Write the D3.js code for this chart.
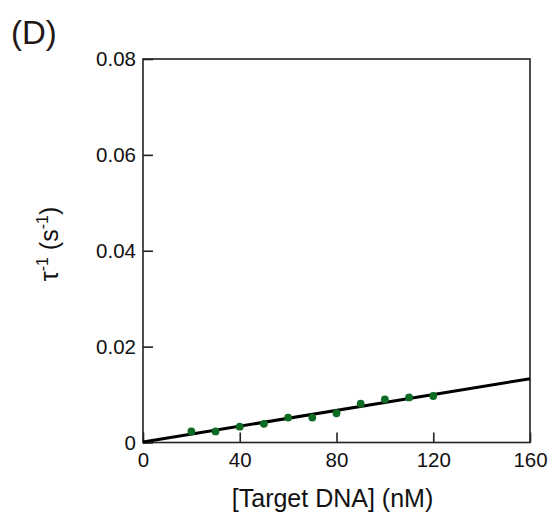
<!DOCTYPE html>
<html lang="en">
<head>
<meta charset="UTF-8">
<title>Relaxation rate vs target DNA</title>
<script src="https://d3js.org/d3.v7.min.js"></script>
<style>
  body { margin: 0; background: #fff; font-family: "Liberation Sans", Arial, sans-serif; }
  svg { display: block; }
</style>
</head>
<body>
<svg id="chart"></svg>
<script>
const width = 553, height = 522;

// data
const concentrations = [20, 30, 40, 50, 60, 70, 80, 90, 100, 110, 120];
const rates = [0.0023, 0.0023, 0.0033, 0.0039, 0.0052, 0.0052, 0.0061, 0.0081, 0.0090, 0.0094, 0.0097];
const fitX = [0, 160];
const fitY = [0.0001, 0.0133];
const xTicks = [0, 40, 80, 120, 160];
const yTicks = [0, 0.02, 0.04, 0.06, 0.08];

const margin = { top: 59, right: 23, bottom: 80, left: 143 };
const svg = d3.select("#chart").attr("width", width).attr("height", height);

const x = d3.scaleLinear().domain([0, 160]).range([margin.left, width - margin.right]);
const y = d3.scaleLinear().domain([0, 0.08]).range([height - margin.bottom + 0.5, margin.top]);

const fontSize = 20.5;
const font = "Liberation Sans, Arial, sans-serif";

// frame
svg.append("rect")
  .attr("x", x(0)).attr("y", y(0.08))
  .attr("width", x(160) - x(0)).attr("height", y(0) - y(0.08))
  .attr("fill", "none").attr("stroke", "#222").attr("stroke-width", 1.6);

// x axis (ticks inward)
const xAxis = svg.append("g")
  .attr("transform", `translate(0,${y(0)})`)
  .call(d3.axisBottom(x).tickValues(xTicks).tickFormat(d3.format("d")).tickSizeInner(-10).tickSizeOuter(0).tickPadding(10));
xAxis.select(".domain").remove();
xAxis.selectAll("line").attr("stroke", "#222").attr("stroke-width", 1.6);
xAxis.selectAll("text").attr("font-size", fontSize).attr("font-family", font).attr("fill", "#111");

// y axis (ticks inward)
const yAxis = svg.append("g")
  .attr("transform", `translate(${x(0)},0)`)
  .call(d3.axisLeft(y).tickValues(yTicks).tickFormat(d => d === 0 ? "0" : d3.format(".2f")(d)).tickSizeInner(-10).tickSizeOuter(0).tickPadding(7));
yAxis.select(".domain").remove();
yAxis.selectAll("line").attr("stroke", "#222").attr("stroke-width", 1.6);
yAxis.selectAll("text").attr("font-size", fontSize).attr("font-family", font).attr("fill", "#111");

// fit line
const line = d3.line().x(d => x(d[0])).y(d => y(d[1]));
svg.append("path")
  .datum(fitX.map((v, i) => [v, fitY[i]]))
  .attr("d", line)
  .attr("fill", "none").attr("stroke", "#000").attr("stroke-width", 3);

// points
svg.selectAll("circle.pt")
  .data(concentrations)
  .enter()
  .append("circle")
  .attr("class", "pt")
  .attr("cx", d => x(d))
  .attr("cy", (d, i) => y(rates[i]))
  .attr("r", 3.9)
  .attr("fill", "#0e6b24");

// axis titles
svg.append("text")
  .attr("x", (x(0) + x(160)) / 2 - 4)
  .attr("y", 507)
  .attr("text-anchor", "middle")
  .attr("font-size", 25)
  .attr("fill", "#111")
  .text("[Target DNA] (nM)");

const yt = svg.append("text")
  .attr("transform", "translate(58,244) rotate(-90)")
  .attr("text-anchor", "middle")
  .attr("font-size", 25)
  .attr("fill", "#111");
yt.append("tspan").text("\u03C4");
yt.append("tspan").attr("dy", -10).attr("font-size", 16).text("-1");
yt.append("tspan").attr("dy", 10).text(" (s");
yt.append("tspan").attr("dy", -10).attr("font-size", 16).text("-1");
yt.append("tspan").attr("dy", 10).text(")");

// panel label
svg.append("text")
  .attr("x", 11).attr("y", 44)
  .attr("font-size", 33)
  .attr("fill", "#231815")
  .text("(D)");
</script>
</body>
</html>
